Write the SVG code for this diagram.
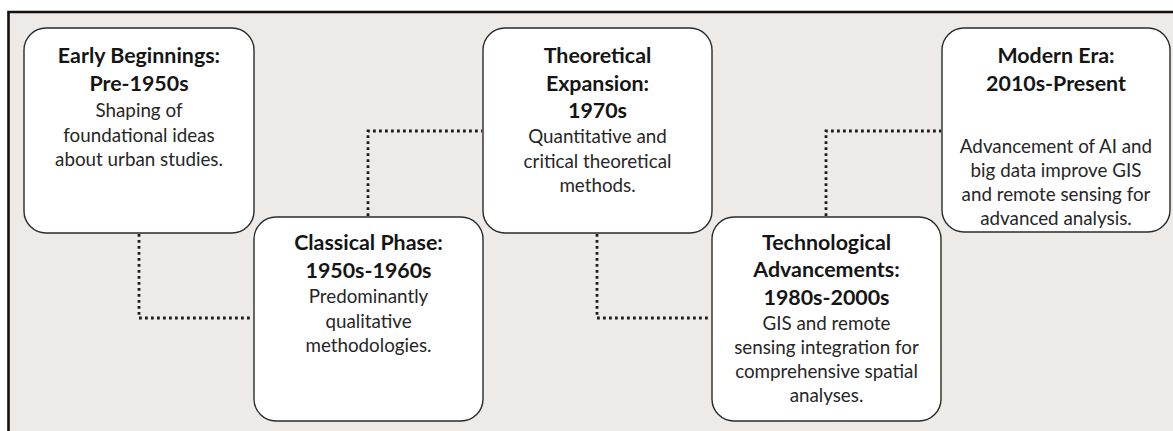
<svg xmlns="http://www.w3.org/2000/svg" width="1173" height="431" viewBox="0 0 1173 431">
<style>
.box{fill:#ffffff;stroke:#2b2b2b;stroke-width:1.4}
.conn{fill:none;stroke:#1e1e1e;stroke-width:2.8;stroke-dasharray:2.8 3.2}
.t{font-family:Lato,"Open Sans",sans-serif;text-anchor:middle;fill:#1c1c1c}
.b{font-weight:bold;font-size:21.4px;fill:#151515}
.r{font-size:18.8px;fill:#262626}
</style>
<rect x="0" y="0" width="1173" height="431" fill="#ffffff"/>
<rect x="8.5" y="12" width="1170" height="430" fill="#eeeae7"/>
<path d="M8.5,431 V12 H1173" fill="none" stroke="#111111" stroke-width="2.6"/>
<g id="connectors">
<path class="conn" d="M139,234 V318 H253"/>
<path class="conn" d="M368,216 V131 H482"/>
<path class="conn" d="M597,234 V318 H711"/>
<path class="conn" d="M826,216 V131 H941"/>
</g>
<g id="node-early">
<rect class="box" x="24" y="28" width="230" height="205" rx="22"/>
<text class="t b" x="139" y="63">Early Beginnings:</text>
<text class="t b" x="139" y="91">Pre-1950s</text>
<text class="t r" x="139" y="117">Shaping of</text>
<text class="t r" x="139" y="142">foundational ideas</text>
<text class="t r" x="139" y="166">about urban studies.</text>
</g>
<g id="node-classical">
<rect class="box" x="254" y="217" width="229" height="204" rx="22"/>
<text class="t b" x="368.5" y="250">Classical Phase:</text>
<text class="t b" x="368.5" y="278">1950s-1960s</text>
<text class="t r" x="368.5" y="303">Predominantly</text>
<text class="t r" x="368.5" y="328">qualitative</text>
<text class="t r" x="368.5" y="352">methodologies.</text>
</g>
<g id="node-theoretical">
<rect class="box" x="483" y="28" width="229" height="205" rx="22"/>
<text class="t b" x="597.5" y="63">Theoretical</text>
<text class="t b" x="597.5" y="91">Expansion:</text>
<text class="t b" x="597.5" y="118">1970s</text>
<text class="t r" x="597.5" y="143">Quantitative and</text>
<text class="t r" x="597.5" y="168">critical theoretical</text>
<text class="t r" x="597.5" y="192">methods.</text>
</g>
<g id="node-technological">
<rect class="box" x="712" y="217" width="229" height="204" rx="22"/>
<text class="t b" x="826.5" y="250">Technological</text>
<text class="t b" x="826.5" y="277">Advancements:</text>
<text class="t b" x="826.5" y="305">1980s-2000s</text>
<text class="t r" x="826.5" y="330">GIS and remote</text>
<text class="t r" x="826.5" y="354">sensing integration for</text>
<text class="t r" x="826.5" y="378">comprehensive spatial</text>
<text class="t r" x="826.5" y="402">analyses.</text>
</g>
<g id="node-modern">
<rect class="box" x="942" y="28" width="228" height="204" rx="22"/>
<text class="t b" x="1056" y="63">Modern Era:</text>
<text class="t b" x="1056" y="91">2010s-Present</text>
<text class="t r" x="1056" y="153">Advancement of AI and</text>
<text class="t r" x="1056" y="177">big data improve GIS</text>
<text class="t r" x="1056" y="201">and remote sensing for</text>
<text class="t r" x="1056" y="225">advanced analysis.</text>
</g>
</svg>
